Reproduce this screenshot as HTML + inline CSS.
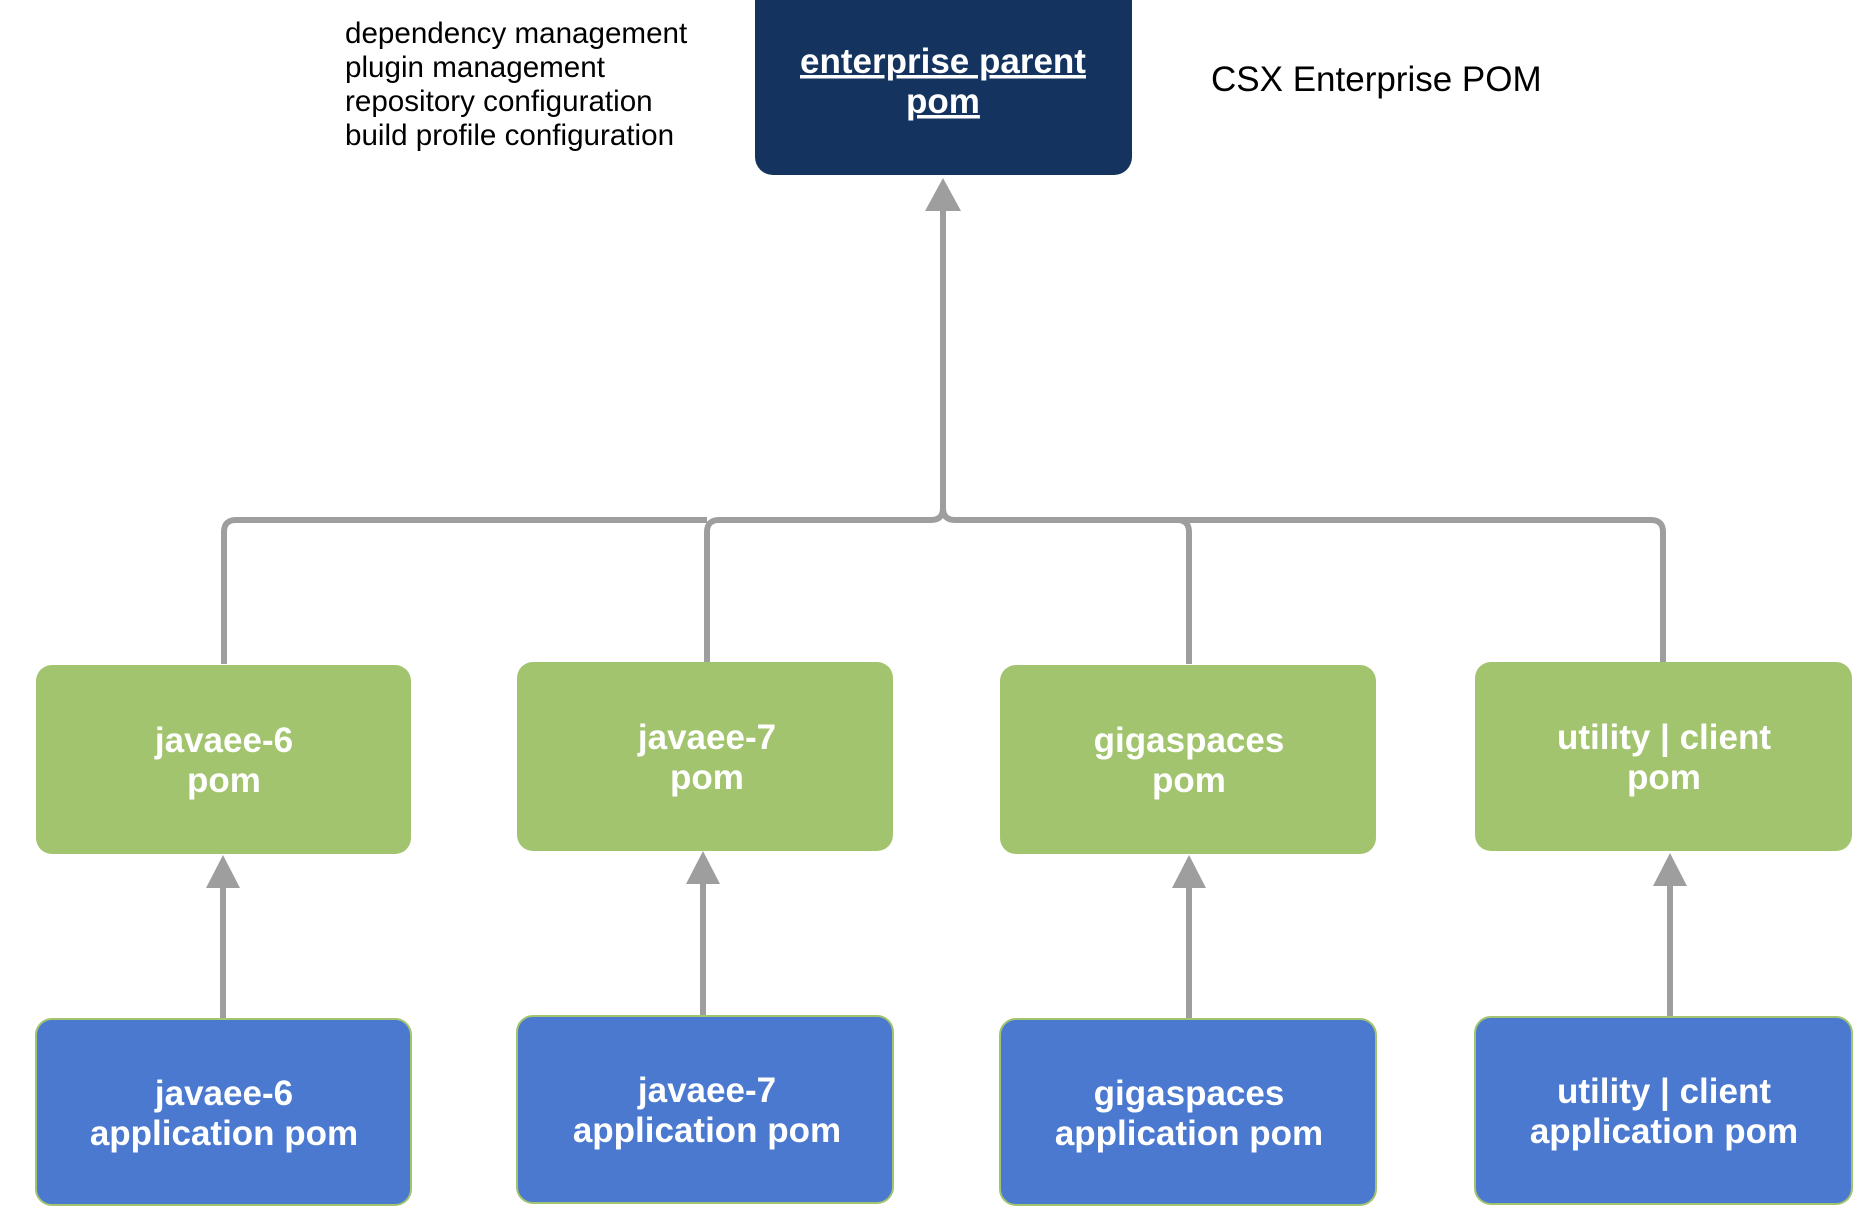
<!DOCTYPE html>
<html><head><meta charset="utf-8"><style>
html,body{margin:0;padding:0;background:#fff;}
svg{display:block;}
text{font-family:"Liberation Sans",Arial,sans-serif;}
.b{font-weight:bold;fill:#fff;font-size:35px;text-anchor:middle;}
.t{font-size:29.6px;fill:#000;}
</style></head><body>
<svg width="1868" height="1226" viewBox="0 0 1868 1226" xmlns="http://www.w3.org/2000/svg">
<g fill="none" stroke="#9e9e9e" stroke-width="6">
<path d="M943 205 V508 Q943 520 955 520 H1177 Q1189 520 1189 532 V664"/>
<path d="M943 508 Q943 520 931 520 H719 Q707 520 707 532 V664"/>
<path d="M707 520 H236 Q224 520 224 532 V664"/>
<path d="M1177 520 H1651 Q1663 520 1663 532 V664"/>
<path d="M223 880 V1019"/><path d="M703 876 V1015"/><path d="M1189 880 V1019"/><path d="M1670 878 V1017"/>
</g>
<g fill="#9e9e9e">
<polygon points="943,178 925,211 961,211"/>
<polygon points="223,855 206,888 240,888"/>
<polygon points="703,851 686,884 720,884"/>
<polygon points="1189,855 1172,888 1206,888"/>
<polygon points="1670,853 1653,886 1687,886"/>
</g>
<rect x="755" y="-20" width="377" height="195" rx="18" fill="#14335f"/>
<text class="b" x="943" y="73" text-decoration="underline">enterprise parent</text>
<text class="b" x="943" y="113" text-decoration="underline">pom</text>
<g fill="#a2c46e">
<rect x="36" y="665" width="375" height="189" rx="16"/>
<rect x="517" y="662" width="376" height="189" rx="16"/>
<rect x="1000" y="665" width="376" height="189" rx="16"/>
<rect x="1475" y="662" width="377" height="189" rx="16"/>
</g>
<g fill="#4a79cf" stroke="#a2c46e" stroke-width="2">
<rect x="36" y="1019" width="375" height="186" rx="16"/>
<rect x="517" y="1016" width="376" height="187" rx="16"/>
<rect x="1000" y="1019" width="376" height="186" rx="16"/>
<rect x="1475" y="1017" width="377" height="187" rx="16"/>
</g>
<text class="b" x="224" y="752">javaee-6</text><text class="b" x="224" y="792">pom</text>
<text class="b" x="707" y="749">javaee-7</text><text class="b" x="707" y="789">pom</text>
<text class="b" x="1189" y="752">gigaspaces</text><text class="b" x="1189" y="792">pom</text>
<text class="b" x="1664" y="749">utility | client</text><text class="b" x="1664" y="789">pom</text>
<text class="b" x="224" y="1105">javaee-6</text><text class="b" x="224" y="1145">application pom</text>
<text class="b" x="707" y="1102">javaee-7</text><text class="b" x="707" y="1142">application pom</text>
<text class="b" x="1189" y="1105">gigaspaces</text><text class="b" x="1189" y="1145">application pom</text>
<text class="b" x="1664" y="1103">utility | client</text><text class="b" x="1664" y="1143">application pom</text>
<text class="t" x="345" y="43">dependency management</text>
<text class="t" x="345" y="77">plugin management</text>
<text class="t" x="345" y="111">repository configuration</text>
<text class="t" x="345" y="145">build profile configuration</text>
<text x="1211" y="91" font-size="35" fill="#000">CSX Enterprise POM</text>
</svg>
</body></html>
